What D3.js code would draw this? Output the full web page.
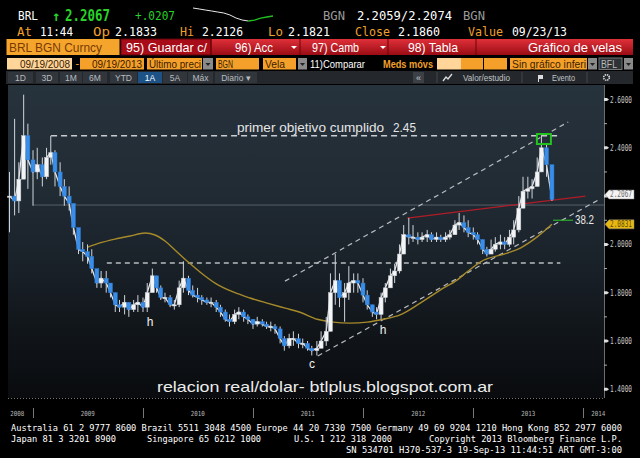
<!DOCTYPE html>
<html><head><meta charset="utf-8">
<script src="https://cdn.jsdelivr.net/npm/d3@7"></script>
<style>html,body{margin:0;padding:0;background:#000;overflow:hidden}svg{display:block}</style>
</head><body>
<script>
// ---------- DATA ----------
const dates = ["2008-10-15","2008-11-01","2008-11-15","2008-12-01","2008-12-15",
"2009-01-01","2009-01-15","2009-02-01","2009-02-15","2009-03-01","2009-03-15","2009-04-01","2009-04-15","2009-05-01","2009-05-15","2009-06-01","2009-06-15",
"2009-07-01","2009-07-15","2009-08-01","2009-08-15","2009-09-01","2009-09-15","2009-10-01","2009-10-15","2009-11-01","2009-11-15","2009-12-01","2009-12-15",
"2010-01-01","2010-01-15","2010-02-01","2010-02-15","2010-03-01","2010-03-15","2010-04-01","2010-04-15","2010-05-01","2010-05-15","2010-06-01","2010-06-15",
"2010-07-01","2010-07-15","2010-08-01","2010-08-15","2010-09-01","2010-09-15","2010-10-01","2010-10-15","2010-11-01","2010-11-15","2010-12-01","2010-12-15",
"2011-01-01","2011-01-15","2011-02-01","2011-02-15","2011-03-01","2011-03-15","2011-04-01","2011-04-15","2011-05-01","2011-05-15","2011-06-01","2011-06-15",
"2011-07-01","2011-07-15","2011-08-01","2011-08-15","2011-09-01","2011-09-15","2011-10-01","2011-10-15","2011-11-01","2011-11-15","2011-12-01","2011-12-15",
"2012-01-01","2012-01-15","2012-02-01","2012-02-15","2012-03-01","2012-03-15","2012-04-01","2012-04-15","2012-05-01","2012-05-15","2012-06-01","2012-06-15",
"2012-07-01","2012-07-15","2012-08-01","2012-08-15","2012-09-01","2012-09-15","2012-10-01","2012-10-15","2012-11-01","2012-11-15","2012-12-01","2012-12-15",
"2013-01-01","2013-01-15","2013-02-01","2013-02-15","2013-03-01","2013-03-15","2013-04-01","2013-04-15","2013-05-01","2013-05-15","2013-06-01","2013-06-15",
"2013-07-01","2013-07-15","2013-08-01","2013-08-15","2013-09-01","2013-09-19"];
const lows = [2.05,2.12,2.13,2.30,2.23,
2.16,2.27,2.24,2.27,2.33,2.24,2.20,2.16,2.14,2.04,1.96,1.93,
1.92,1.88,1.82,1.82,1.80,1.78,1.72,1.72,1.71,1.70,1.72,1.72,
1.72,1.72,1.83,1.80,1.77,1.76,1.74,1.73,1.74,1.80,1.79,1.78,
1.76,1.75,1.75,1.74,1.72,1.70,1.68,1.66,1.67,1.69,1.68,1.67,
1.65,1.66,1.66,1.65,1.64,1.63,1.59,1.56,1.57,1.58,1.57,1.57,
1.56,1.54,1.54,1.57,1.58,1.64,1.75,1.74,1.68,1.77,1.80,1.80,
1.76,1.73,1.70,1.69,1.69,1.76,1.82,1.84,1.88,1.96,2.00,2.01,
2.00,2.01,2.01,2.01,2.01,2.01,2.01,2.02,2.04,2.06,2.05,2.03,
2.02,2.00,1.96,1.95,1.96,1.97,1.98,1.98,1.99,2.00,2.05,2.15,
2.19,2.19,2.24,2.32,2.28,2.18];
const highs = [2.30,2.52,2.34,2.62,2.50,
2.39,2.40,2.36,2.40,2.45,2.39,2.34,2.27,2.24,2.14,2.06,2.01,
2.00,1.98,1.88,1.89,1.89,1.84,1.80,1.77,1.79,1.76,1.77,1.79,
1.78,1.84,1.90,1.87,1.83,1.80,1.79,1.77,1.85,1.93,1.87,1.83,
1.82,1.79,1.78,1.78,1.77,1.75,1.73,1.71,1.73,1.74,1.73,1.71,
1.69,1.70,1.69,1.68,1.68,1.67,1.66,1.62,1.63,1.64,1.63,1.61,
1.60,1.58,1.60,1.64,1.70,1.88,1.96,1.88,1.84,1.91,1.88,1.88,
1.86,1.81,1.75,1.74,1.80,1.84,1.90,1.92,2.00,2.08,2.11,2.08,
2.05,2.05,2.06,2.05,2.05,2.04,2.05,2.06,2.10,2.13,2.12,2.10,
2.07,2.05,2.02,1.99,2.02,2.03,2.04,2.03,2.06,2.10,2.20,2.28,
2.28,2.27,2.36,2.45,2.42,2.30];
const closes = [2.20,2.18,2.27,2.45,2.35,
2.30,2.33,2.28,2.36,2.38,2.30,2.24,2.20,2.17,2.07,1.98,1.97,
1.95,1.90,1.84,1.86,1.84,1.80,1.75,1.74,1.76,1.73,1.75,1.76,
1.74,1.80,1.87,1.82,1.78,1.78,1.75,1.75,1.82,1.86,1.81,1.79,
1.78,1.77,1.76,1.76,1.74,1.72,1.69,1.68,1.71,1.72,1.70,1.69,
1.67,1.68,1.67,1.66,1.66,1.65,1.61,1.58,1.61,1.61,1.59,1.59,
1.57,1.56,1.57,1.60,1.64,1.80,1.85,1.78,1.80,1.84,1.85,1.84,
1.79,1.75,1.72,1.71,1.78,1.82,1.87,1.89,1.96,2.04,2.03,2.03,
2.02,2.03,2.04,2.02,2.03,2.02,2.03,2.04,2.08,2.09,2.07,2.05,
2.04,2.02,1.98,1.96,1.98,2.00,2.01,2.00,2.03,2.06,2.15,2.22,
2.23,2.24,2.30,2.40,2.33,2.186];

const maDates = ["2009-07-02","2009-08-11","2009-09-30","2009-11-19","2010-01-08","2010-02-10","2010-03-15","2010-04-17","2010-05-31","2010-07-09",
"2010-08-28","2010-10-27","2010-12-22","2011-02-17","2011-04-18","2011-06-06","2011-08-02","2011-09-24","2011-11-19","2012-01-15",
"2012-03-08","2012-05-03","2012-07-09","2012-09-13","2012-11-09","2012-12-15","2013-01-24","2013-04-24","2013-06-06","2013-08-01","2013-09-19"];
const maValues = [1.989,2.006,2.022,2.035,2.047,2.039,2.014,1.977,1.927,1.886,
1.840,1.803,1.778,1.757,1.736,1.719,1.690,1.678,1.674,1.678,
1.690,1.708,1.757,1.811,1.853,1.890,1.927,1.964,1.985,2.031,2.0831];

const yTicks = [2.6,2.4,2.2,2.0,1.8,1.6,1.4];
const yTickLabels = ["2.6000","2.4000","","2.0000","1.8000","1.6000","1.4000"];
const yMinorTicks = [2.5,2.3,2.1,1.9,1.7,1.5];
const yearTicks = ["2009-01-01","2010-01-01","2011-01-01","2012-01-01","2013-01-01","2014-01-01"];
const yearLabels = ["2008","2009","2010","2011","2012","2013","2014"];
const yearLabelDates = ["2008-11-10","2009-07-02","2010-07-02","2011-07-02","2012-07-02","2013-07-02","2014-02-20"];
const lastPrice = 2.2067, maLast = 2.0831;
const targetLevel = 2.45, supportLevel = 1.923, lowLine = 2.163;
const channelUpper = [["2011-04-17",1.848],["2013-11-12",2.507]];
const channelLower = [["2011-08-04",1.538],["2014-02-20",2.184]];
const redLine = [["2012-05-27",2.109],["2014-01-08",2.200]];
const sparkValues = [2.2126,2.2103,2.2079,2.2056,2.2032,2.2009,2.1962,2.1891,2.1844,2.1821,2.1844,2.1891,2.1915,2.1938];

// ---------- SETUP ----------
const W=640,H=458;
const svg=d3.select("body").append("svg").attr("width",W).attr("height",H);
svg.append("rect").attr("width",W).attr("height",H).attr("fill","#000");
const P=d3.timeParse("%Y-%m-%d");
const x=d3.scaleTime().domain([P("2009-01-01"),P("2013-01-01")]).range([33,473.3]);
const y=d3.scaleLinear().domain([1.4,2.6]).range([389.3,99.5]);
const mono="DejaVu Sans Mono", sans="Liberation Sans, Arial, sans-serif";
function txt(t,xx,yy,o){o=o||{};const e=svg.append("text").attr("x",xx).attr("y",yy).text(t)
 .attr("font-family",o.f||mono).attr("font-size",o.s||12).attr("fill",o.c||"#fff")
 .attr("font-weight",o.w||"normal").attr("text-anchor",o.a||"start");
 if(o.L){e.attr("textLength",o.L).attr("lengthAdjust","spacingAndGlyphs");} return e;}

// ---------- HEADER ROW 1 ----------
txt("BRL",18,20,{s:13,L:20});
txt("\u2191",52,21,{s:14,c:"#28d228",w:"bold"});
txt("2.2067",65,21,{s:15,c:"#28d228",w:"bold",L:45});
txt("+.0207",135,20,{s:13,c:"#28d228",L:40});
const sx=d3.scaleLinear().domain([0,sparkValues.length-1]).range([193,273]);
const sy=d3.scaleLinear().domain([d3.min(sparkValues),d3.max(sparkValues)]).range([21,8]);
svg.append("path").attr("d",d3.line().x((d,i)=>sx(i)).y(d=>sy(d))(sparkValues.slice(0,10))).attr("fill","none").attr("stroke","#e8e8e8").attr("stroke-width",1);
svg.append("path").attr("d",d3.line().x((d,i)=>sx(i+9)).y(d=>sy(d))(sparkValues.slice(9))).attr("fill","none").attr("stroke","#20c020").attr("stroke-width",1.3);
txt("BGN",323,20,{s:13,c:"#9a9a9a",L:22});
txt("2.2059/2.2074",357,20,{s:13,L:95});
txt("BGN",463,20,{s:13,c:"#9a9a9a",L:22});
// ROW 2
const OR="#f0a02a";
txt("At",17,36,{s:13,c:OR,L:15});txt("11:44",40,36,{s:13,L:33});
txt("Op",93,36,{s:13,c:OR,L:17});txt("2.1833",115,36,{s:13,L:42});
txt("Hi",180,36,{s:13,c:OR,L:14});txt("2.2126",202,36,{s:13,L:41});
txt("Lo",268,36,{s:13,c:OR,L:15});txt("2.1821",288,36,{s:13,L:42});
txt("Close",355,36,{s:13,c:OR,L:35});txt("2.1860",398,36,{s:13,L:42});
txt("Value",468,36,{s:13,c:OR,L:35});txt("09/23/13",512,36,{s:13,L:55});

// ROW 3 (buttons)
const defs=svg.append("defs");
const rg=defs.append("linearGradient").attr("id","red").attr("x1",0).attr("y1",0).attr("x2",0).attr("y2",1);
rg.append("stop").attr("offset","0%").attr("stop-color","#e0303a");
rg.append("stop").attr("offset","100%").attr("stop-color","#9a0c14");
svg.append("rect").attr("x",6.5).attr("y",39).attr("width",113).attr("height",16).attr("fill","#f5a52c");
txt("BRL BGN Curncy",9,52,{f:sans,s:13,c:"#7a3a06",L:93});
svg.append("rect").attr("x",121).attr("y",39).attr("width",512).attr("height",16).attr("fill","url(#red)");
svg.append("rect").attr("x",121).attr("y",39).attr("width",90).attr("height",16).attr("fill","#a80c18").attr("stroke","#5a0508");
[211,300,388,476].forEach(b=>svg.append("line").attr("x1",b).attr("x2",b).attr("y1",39).attr("y2",55).attr("stroke","#6a0408"));
txt("95) Guardar c/",126,52,{f:sans,s:13,L:81});
txt("96) Acc",235,52,{f:sans,s:13,L:38});
txt("97) Camb",312,52,{f:sans,s:13,L:47});
txt("98) Tabla",408,52,{f:sans,s:13,L:50});
txt("Gráfico de velas",528,52,{f:sans,s:13,L:94});
[[291,46],[380,46]].forEach(p=>svg.append("path").attr("d",`M${p[0]},${p[1]}h6l-3,3z`).attr("fill","#fff"));

// ROW 4
function box(x0,w,fill,t,tc,L,tx){svg.append("rect").attr("x",x0).attr("y",58).attr("width",w).attr("height",11.5).attr("fill",fill);
 if(t)txt(t,x0+(tx||2),67.5,{f:sans,s:10.5,c:tc||"#3a2000",L:L});}
function dd(x0,w){svg.append("rect").attr("x",x0).attr("y",58).attr("width",w).attr("height",11.5).attr("fill","#8a8a8a");
 svg.append("path").attr("d",`M${x0+w/2-2.5},${63}h5l-2.5,3z`).attr("fill","#222");}
box(7,65,"#ffd59a","09/19/2008","#3a2000",50,13);
txt("-",74,67,{s:11,c:OR});
box(80,64,"#f5a02a","09/19/2013","#3a2000",50,12);
box(147,55,"#f5a02a","Último preci","#3a2000",52);
dd(203,10);
box(216,43,"#f5a02a","BGN","#3a2000",15);
box(263,33,"#f5a02a","Vela","#3a2000",20);
dd(298,9);
txt("11)Comparar",310,67.5,{f:sans,s:10.5,c:"#fff",L:55});
txt("Meds móvs",383,67.5,{f:sans,s:10.5,c:OR,w:"bold",L:50});
box(437,24,"#ffd59a");box(461,22,"#f5a02a");box(484,23,"#f5a02a");
box(510,77,"#f5a02a","Sin gráfico inferi","#3a2000",74);
dd(588,9);
svg.append("rect").attr("x",599).attr("y",58).attr("width",23).attr("height",11.5).attr("fill","#2d3236").attr("stroke","#777");
txt("BFL",601,67.5,{f:sans,s:10.5,c:"#bbb",L:16});
dd(624,9);

// ROW 5
svg.append("rect").attr("x",6).attr("y",71).attr("width",627).attr("height",13).attr("fill","#24282c");
const periods=[["1D",8,25],["3D",36,22],["1M",60,22],["6M",83,24],["YTD",110,27],["1A",138,24],["5A",163,24],["Máx",188,25],["Diario ▾",215,42]];
periods.forEach(p=>{svg.append("rect").attr("x",p[1]).attr("y",72).attr("width",p[2]).attr("height",11).attr("fill",p[0]==="1A"?"#1c5286":"#30363b");
 txt(p[0],p[1]+p[2]/2,80.5,{f:sans,s:8.5,c:p[0]==="1A"?"#fff":"#b8bcc0",a:"middle"});});
svg.append("rect").attr("x",413).attr("y",72).attr("width",11).attr("height",11).attr("fill","#3a4046");
txt("«",418.5,80.5,{f:sans,s:9,c:"#ccc",a:"middle"});
[437,522,587].forEach(b=>svg.append("line").attr("x1",b).attr("x2",b).attr("y1",72).attr("y2",83).attr("stroke","#444"));
svg.append("path").attr("d","M443,81 l3,-4 l2,2 l4,-5").attr("fill","none").attr("stroke","#ddd").attr("stroke-width",1.3);
txt("Valor/estudio",463,80.5,{f:sans,s:8.5,c:"#c0c4c8",L:47});
svg.append("rect").attr("x",538).attr("y",75).attr("width",5).attr("height",4).attr("fill","#ddd");
svg.append("line").attr("x1",538.5).attr("x2",538.5).attr("y1",75).attr("y2",82).attr("stroke","#ddd");
txt("Evento",552,80.5,{f:sans,s:8.5,c:"#c0c4c8",L:23});
svg.append("circle").attr("cx",606.5).attr("cy",77.5).attr("r",2.8).attr("fill","none").attr("stroke","#ddd").attr("stroke-width",1.6).attr("stroke-dasharray","1.4,0.8");

// ---------- CHART ----------
const bg=defs.append("linearGradient").attr("id","bg").attr("x1",0).attr("y1",0).attr("x2",0).attr("y2",1);
[["0%","#26323c"],["35%","#212b34"],["55%","#1a222a"],["75%","#12171c"],["100%","#090b0e"]].forEach(s=>bg.append("stop").attr("offset",s[0]).attr("stop-color",s[1]));
svg.append("rect").attr("x",8).attr("y",85).attr("width",596).attr("height",313).attr("fill","url(#bg)");
svg.append("line").attr("x1",604.5).attr("x2",604.5).attr("y1",85).attr("y2",398).attr("stroke","#6a6e72");
svg.append("line").attr("x1",8).attr("x2",604).attr("y1",398.5).attr("y2",398.5).attr("stroke","#777").attr("stroke-dasharray","1,2");

// horizontal reference lines
svg.append("line").attr("x1",x(P("2009-01-01"))).attr("x2",604).attr("y1",y(lowLine)).attr("y2",y(lowLine)).attr("stroke","#56606a").attr("stroke-width",1);
svg.append("line").attr("x1",x(P("2009-03-02"))).attr("x2",x(P("2013-10-17"))).attr("y1",y(targetLevel)).attr("y2",y(targetLevel))
 .attr("stroke","#c8ccd0").attr("stroke-width",1.5).attr("stroke-dasharray","6,4");
svg.append("line").attr("x1",x(P("2009-09-03"))).attr("x2",x(P("2013-10-17"))).attr("y1",y(supportLevel)).attr("y2",y(supportLevel))
 .attr("stroke","#b8bcc0").attr("stroke-width",1.3).attr("stroke-dasharray","5,4");
[channelUpper,channelLower].forEach(c=>svg.append("line").attr("x1",x(P(c[0][0]))).attr("y1",y(c[0][1])).attr("x2",x(P(c[1][0]))).attr("y2",y(c[1][1]))
 .attr("stroke","#b8bcc0").attr("stroke-width",1.2).attr("stroke-dasharray","5,4"));
svg.append("path").attr("d",d3.line().curve(d3.curveMonotoneX).x((d,i)=>x(P(maDates[i]))).y(d=>y(d))(maValues))
 .attr("fill","none").attr("stroke","#a68a2a").attr("stroke-width",1.4);
svg.append("line").attr("x1",x(P(redLine[0][0]))).attr("y1",y(redLine[0][1])).attr("x2",x(P(redLine[1][0]))).attr("y2",y(redLine[1][1]))
 .attr("stroke","#b01c28").attr("stroke-width",1.4);

// candles
const cg=svg.append("g");
cg.append("path").attr("d",d3.line().x((d,i)=>x(P(dates[i]))).y(d=>y(d))(closes)).attr("fill","none").attr("stroke","#e6eaee").attr("stroke-width",1.3);
dates.forEach((d,i)=>{
  const xx=x(P(d)); const o=i===0?closes[0]:closes[i-1]; const c=closes[i];
  cg.append("line").attr("x1",xx).attr("x2",xx).attr("y1",y(highs[i])).attr("y2",y(lows[i])).attr("stroke","#cfd5db").attr("stroke-width",1);
  const up=c>=o;
  cg.append("rect").attr("x",xx-2).attr("width",4).attr("y",y(Math.max(o,c))).attr("height",Math.max(1.2,Math.abs(y(o)-y(c))))
    .attr("fill",up?"#f2f4f6":"#3a8ee8").attr("stroke",up?"#c8ccd0":"#2a78d0").attr("stroke-width",0.5);
});

// annotations
txt("primer objetivo cumplido",237,132,{f:sans,s:12.5,c:"#e6e6e6",L:147});
txt("2.45",393,132,{f:sans,s:12.5,c:"#e6e6e6",L:23});
svg.append("rect").attr("x",x(P("2013-08-15"))-4.5).attr("y",y(2.457)).attr("width",14).attr("height",10).attr("fill","none").attr("stroke","#22c41e").attr("stroke-width",2);
svg.append("line").attr("x1",553).attr("x2",573).attr("y1",y(2.10)).attr("y2",y(2.10)).attr("stroke","#2ab02a").attr("stroke-width",1.2);
txt("38.2",575,224,{f:sans,s:12,c:"#e8e8e8",L:19});
txt("h",150,326,{f:sans,s:12,c:"#f0f0f0",a:"middle"});
txt("h",383,334,{f:sans,s:12,c:"#f0f0f0",a:"middle"});
txt("c",312,368,{f:sans,s:12,c:"#f0f0f0",a:"middle"});
txt("relacion real/dolar- btlplus.blogspot.com.ar",157,392,{f:sans,s:15,c:"#ececec",L:336});

// right axis
yMinorTicks.forEach(v=>svg.append("line").attr("x1",604).attr("x2",607).attr("y1",y(v)).attr("y2",y(v)).attr("stroke","#aaa"));
yTicks.forEach((v,i)=>{
  svg.append("path").attr("d",`M604,${y(v)-1.5}h3l2,1.5l-2,1.5h-3z`).attr("fill","#ddd");
  if(yTickLabels[i]) txt(yTickLabels[i],610,y(v)+3,{s:8,c:"#c8c8c8",L:22});
});
function tag(v,fill,tc,t){const yy=y(v);
 svg.append("path").attr("d",`M605,${yy} l4,-4.5 h25 v9 h-25 z`).attr("fill",fill).attr("stroke","#888").attr("stroke-width",0.5);
 txt(t,610,yy+3,{s:8,c:tc,L:22});}
tag(lastPrice,"#f4f4f4","#6a6a6a","2.2067");
tag(maLast,"#e8b812","#5a4800","2.0831");

// x axis
yearTicks.forEach(d=>svg.append("line").attr("x1",Math.round(x(P(d)))+0.5).attr("x2",Math.round(x(P(d)))+0.5).attr("y1",408).attr("y2",418).attr("stroke","#777"));
yearLabels.forEach((t,i)=>txt(t,x(P(yearLabelDates[i])),416,{s:7,c:"#b8b8b8",a:"middle",L:14}));

// footer
txt("Australia 61 2 9777 8600 Brazil 5511 3048 4500 Europe 44 20 7330 7500 Germany 49 69 9204 1210 Hong Kong 852 2977 6000",11,431,{s:8.5,L:611});
txt("Japan 81 3 3201 8900",11,442,{s:8.5,L:105});
txt("Singapore 65 6212 1000",147,442,{s:8.5,L:114});
txt("U.S. 1 212 318 2000",294,442,{s:8.5,L:98});
txt("Copyright 2013 Bloomberg Finance L.P.",429,442,{s:8.5,L:193});
txt("SN 534701 H370-537-3 19-Sep-13 11:44:51 ART  GMT-3:00",346,453,{s:8.5,L:276});
</script>
</body></html>
